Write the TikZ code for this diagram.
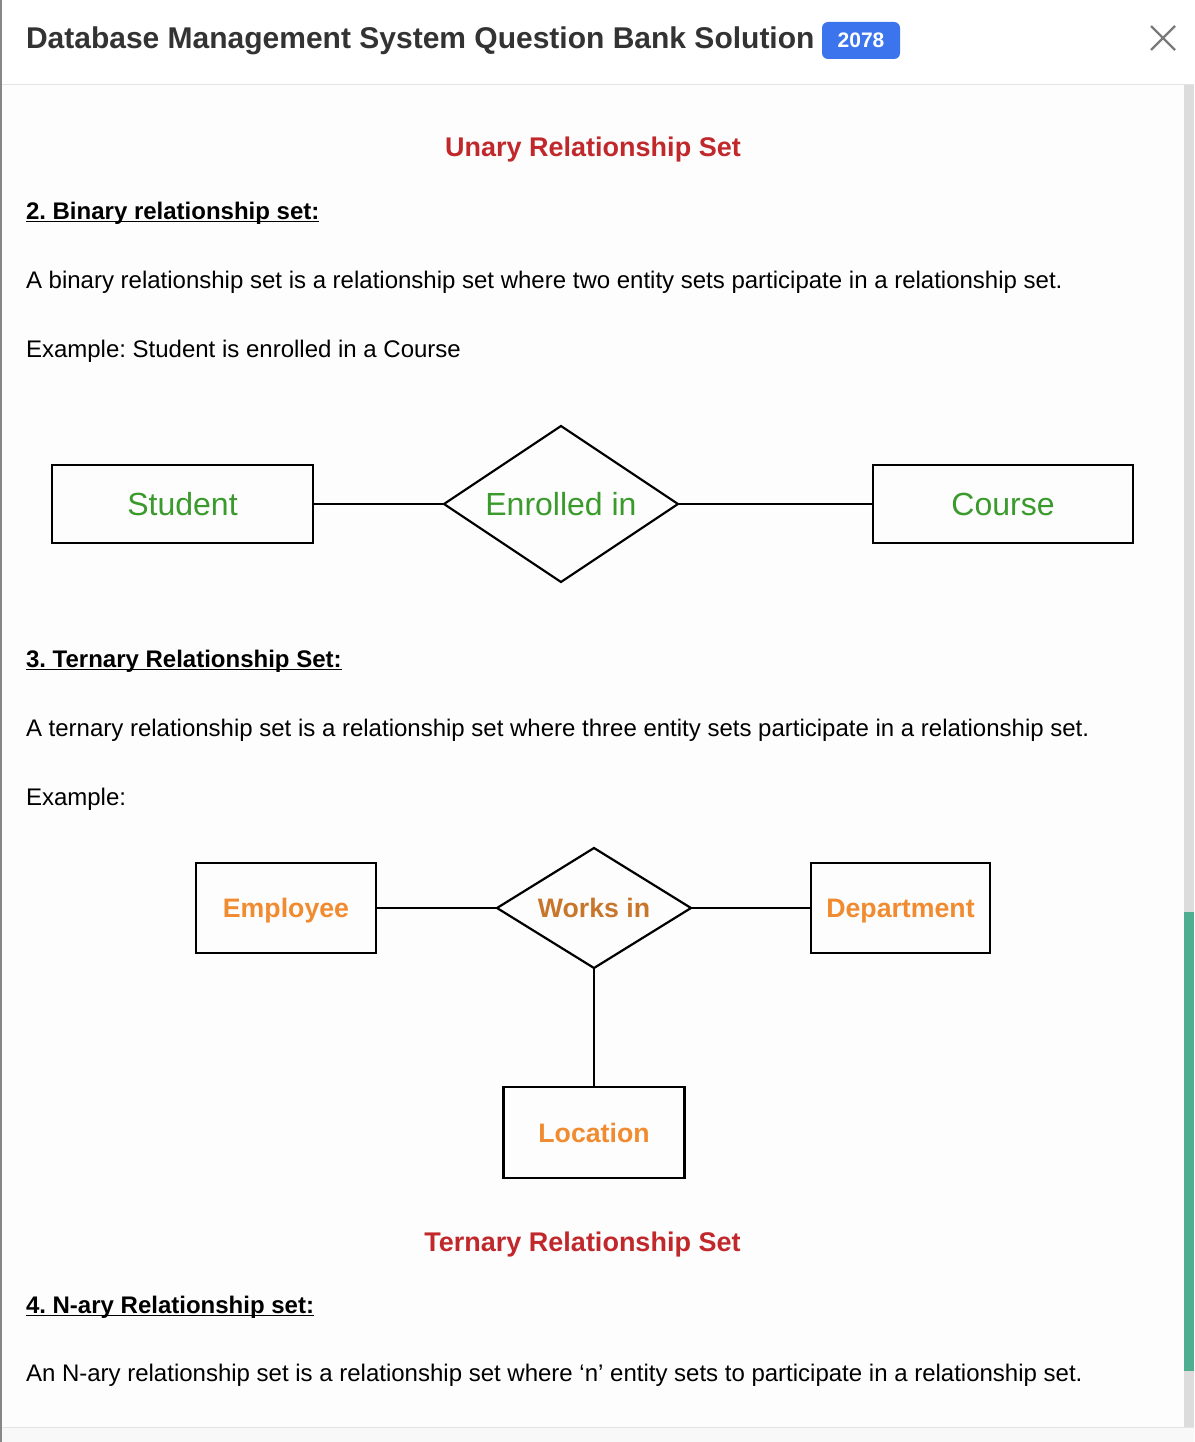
\documentclass[tikz,border=0pt]{standalone}
\usepackage{fontspec}
\setmainfont{Liberation Sans}
\usetikzlibrary{shapes.geometric}
\frenchspacing
\definecolor{titlegray}{HTML}{333333}
\definecolor{badgeblue}{HTML}{3B74EC}
\definecolor{closegray}{HTML}{7A7A7A}
\definecolor{capred}{HTML}{C0282B}
\definecolor{ergreen}{HTML}{3A9A2C}
\definecolor{erorange}{HTML}{F18B30}
\definecolor{erbrown}{HTML}{C8762C}
\definecolor{rulegray}{HTML}{E2E4E8}
\definecolor{pagebg}{HTML}{FDFDFD}
\definecolor{trackgray}{HTML}{DCDCDC}
\definecolor{thumbgreen}{HTML}{50AE90}

\begin{document}
\begin{tikzpicture}[x=1pt,y=-1pt,
    every node/.style={inner sep=0pt,outer sep=0pt},
    body/.style={anchor=base west,font=\fontsize{24}{28}\selectfont},
    head/.style={anchor=base west,font=\fontsize{24}{28}\selectfont\bfseries},
    caption/.style={anchor=base,text=capred,font=\fontsize{27}{32}\selectfont\bfseries},
    green/.style={text=ergreen,font=\fontsize{32}{38}\selectfont,text height=22.9pt,text depth=0pt},
    orange/.style={text=erorange,font=\fontsize{26.7}{32}\selectfont\bfseries,text height=19.1pt,text depth=0pt},
    entity/.style={draw,line width=2.6pt},
    rel/.style={draw,diamond,aspect=1.55,line width=2.2pt},
    link/.style={line width=2.5pt},
    uline/.style={line width=1.8pt}]
  \useasboundingbox (0,0) rectangle (1194,1442);
  % window
  \fill[white] (0,0) rectangle (1194,1442);
  \fill[pagebg] (2,85) rectangle (1184,1427);
  \fill[pagebg!98!black] (2,1428) rectangle (1194,1442);
  \fill[trackgray] (1184,85) rectangle (1194,1427);
  \fill[thumbgreen] (1184,912) rectangle (1194,1371);
  \draw[rulegray,line width=1.5pt] (0,84.5) -- (1194,84.5);
  \draw[rulegray,line width=1.5pt] (0,1427.5) -- (1194,1427.5);
  \draw[closegray!90,line width=1.5pt] (0.75,0) -- (0.75,1442);
  % title bar
  \node[anchor=base west,text=titlegray,font=\fontsize{30}{36}\selectfont\bfseries] (title) at (26,49)
    {Database Management System Question Bank Solution};
  \node[fill=badgeblue,rounded corners=6pt,minimum width=78pt,minimum height=37pt,
        text=white,font=\fontsize{21}{25}\selectfont\bfseries,text height=15pt,text depth=0pt] (badge) at (861,40.5) {2078};
  \draw[closegray,line width=2.2pt] (1151,26) -- (1175,50) (1175,26) -- (1151,50);
  % text
  \node[caption] (cap1) at (593,157) {Unary Relationship Set};
  \node[head] (h2) at (26,219) {2. Binary relationship set:};
  \draw[uline] ([yshift=-2.5pt]h2.base west) -- ([yshift=-2.5pt]h2.base east);
  \node[body] (p2) at (26,288) {A binary relationship set is a relationship set where two entity sets participate in a relationship set.};
  \node[body] (ex2) at (26,357) {Example: Student is enrolled in a Course};
  % binary
  \node[entity,green,minimum width=261pt,minimum height=78pt] (stu) at (182.5,504) {Student};
  \node[rel,green,minimum width=234pt,minimum height=156pt] (enr) at (561,504) {Enrolled in};
  \node[entity,green,minimum width=260pt,minimum height=78pt] (crs) at (1003,504) {Course};
  \draw[link] (stu) -- (enr);
  \draw[link] (enr) -- (crs);
  % ternary
  \node[head] (h3) at (26,667) {3. Ternary Relationship Set:};
  \draw[uline] ([yshift=-2.5pt]h3.base west) -- ([yshift=-2.5pt]h3.base east);
  \node[body] (p3) at (26,736) {A ternary relationship set is a relationship set where three entity sets participate in a relationship set.};
  \node[body] (ex3) at (26,805) {Example:};
  \node[entity,orange,minimum width=180pt,minimum height=90pt] (emp) at (286,908) {Employee};
  \node[rel,orange,text=erbrown,minimum width=194pt,minimum height=120pt] (wrk) at (594,908) {Works in};
  \node[entity,orange,minimum width=179pt,minimum height=90pt] (dep) at (900.5,908) {Department};
  \node[entity,orange,minimum width=181pt,minimum height=91pt] (loc) at (594,1132.5) {Location};
  \draw[link] (emp) -- (wrk);
  \draw[link] (wrk) -- (dep);
  \draw[link] (wrk) -- (loc);
  \node[caption] (cap3) at (582.5,1251) {Ternary Relationship Set};
  % n-ary
  \node[head] (h4) at (26,1313) {4. N-ary Relationship set:};
  \draw[uline] ([yshift=-2.5pt]h4.base west) -- ([yshift=-2.5pt]h4.base east);
  \node[body] (p4) at (26,1381) {An N-ary relationship set is a relationship set where ‘n’ entity sets to participate in a relationship set.};
\end{tikzpicture}
\end{document}
